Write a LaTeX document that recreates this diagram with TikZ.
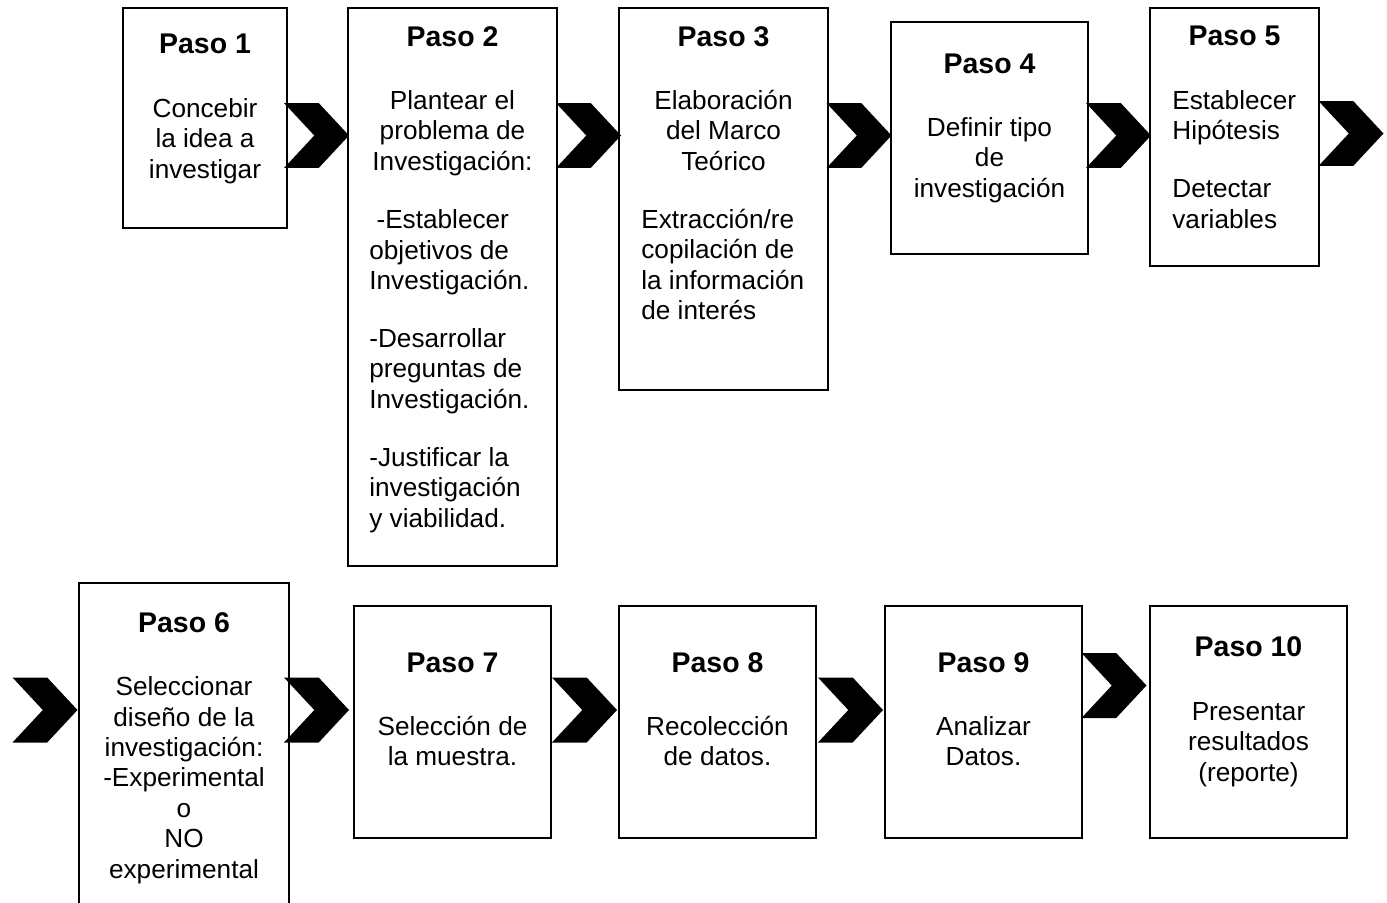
\documentclass[tikz,border=0pt]{standalone}
\usepackage{fontspec}
\setmainfont{Liberation Sans}
\usetikzlibrary{shapes.symbols}

\begin{document}
\begin{tikzpicture}[x=0.02cm, y=-0.02cm,
    box/.style={rectangle, draw=black, line width=1.1pt, fill=white, inner sep=0pt},
    chev/.style={signal, signal from=west, signal to=east, signal pointer angle=94,
        fill=black, inner sep=0pt, minimum width=1.3cm, minimum height=1.3cm},
    title/.style={anchor=base, inner sep=0pt, font=\fontsize{16.2}{19}\selectfont\bfseries},
    body/.style={anchor=base, inner sep=0pt, align=center, font=\fontsize{14.9}{17.3}\selectfont},
    bodyl/.style={body, align=left, anchor=base west}]
    \useasboundingbox (0,0) rectangle (1387,903);

    \node[box, minimum width=3.28cm, minimum height=4.4cm]   (p1) at (205,118) {};
    \node[box, minimum width=4.18cm, minimum height=11.16cm] (p2) at (452.5,287) {};
    \node[box, minimum width=4.18cm, minimum height=7.64cm]  (p3) at (723.5,199) {};
    \node[box, minimum width=3.94cm, minimum height=4.64cm]  (p4) at (989.5,138) {};
    \node[box, minimum width=3.38cm, minimum height=5.16cm]  (p5) at (1234.5,137) {};
    \node[box, minimum width=4.2cm, minimum height=6.94cm]   (p6) at (184,756.5) {};
    \node[box, minimum width=3.94cm, minimum height=4.64cm]  (p7) at (452.5,722) {};
    \node[box, minimum width=3.94cm, minimum height=4.64cm]  (p8) at (717.5,722) {};
    \node[box, minimum width=3.94cm, minimum height=4.64cm]  (p9) at (983.5,722) {};
    \node[box, minimum width=3.94cm, minimum height=4.64cm]  (p10) at (1248.5,722) {};

    % multi-line texts sit on the baseline of their last line
    \node[title] (t1) at (205,53) {Paso 1};
    \node[body]  (b1) at (205,178) {Concebir\\la idea a\\investigar};

    \node[title] (t2) at (452.5,46) {Paso 2};
    \node[body]  (b2) at (452.5,170) {Plantear el\\problema de\\Investigación:};
    \node[bodyl] (l2) at (369,527) {\hspace*{4.1pt}-Establecer\\objetivos de\\Investigación.\\[0.55cm]-Desarrollar\\preguntas de\\Investigación.\\[0.55cm]-Justificar la\\investigación\\y viabilidad.};

    \node[title] (t3) at (723.5,46) {Paso 3};
    \node[body]  (b3) at (723.5,170) {Elaboración\\del Marco\\Teórico};
    \node[bodyl] (l3) at (641,319.5) {Extracción/re\\copilación de\\la información\\de interés};

    \node[title] (t4) at (989.5,73) {Paso 4};
    \node[body]  (b4) at (989.5,197) {Definir tipo\\de\\investigación};

    \node[title] (t5) at (1234.5,45) {Paso 5};
    \node[bodyl] (l5) at (1172,228) {Establecer\\Hipótesis\\[0.55cm]Detectar\\variables};

    \node[title] (t6) at (184,632) {Paso 6};
    \node[body]  (b6) at (184,878) {Seleccionar\\diseño de la\\investigación:\\-Experimental\\o\\NO\\experimental};

    \node[title] (t7) at (452.5,672) {Paso 7};
    \node[body]  (b7) at (452.5,765.5) {Selección de\\la muestra.};

    \node[title] (t8) at (717.5,672) {Paso 8};
    \node[body]  (b8) at (717.5,765.5) {Recolección\\de datos.};

    \node[title] (t9) at (983.5,672) {Paso 9};
    \node[body]  (b9) at (983.5,765.5) {Analizar\\Datos.};

    \node[title] (t10) at (1248.5,656) {Paso 10};
    \node[body]  (b10) at (1248.5,781) {Presentar\\resultados\\(reporte)};

    \node[chev] (c12) at (316.5,135.5) {};
    \node[chev] (c23) at (588.5,135.5) {};
    \node[chev] (c34) at (859,135.5) {};
    \node[chev] (c45) at (1118.5,135.5) {};
    \node[chev] (c5) at (1351,133.5) {};
    \node[chev] (c6) at (45,710) {};
    \node[chev] (c67) at (316.5,710) {};
    \node[chev] (c78) at (584.5,710) {};
    \node[chev] (c89) at (850.5,710) {};
    \node[chev] (c910) at (1114,685.5) {};
\end{tikzpicture}
\end{document}
